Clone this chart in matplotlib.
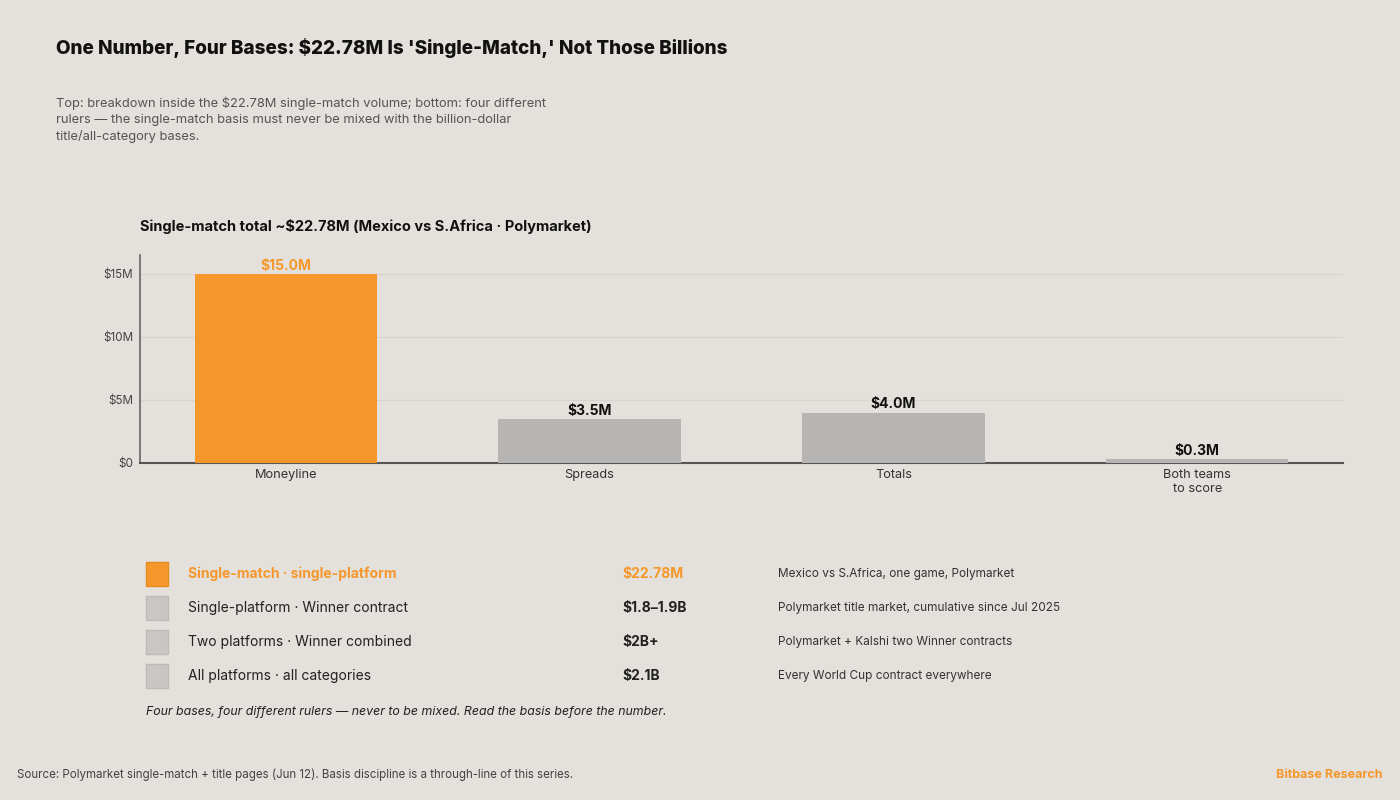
import matplotlib
matplotlib.use("Agg")
from matplotlib import pyplot as plt
from matplotlib.patches import Rectangle
from matplotlib.ticker import FuncFormatter

plt.rcParams['font.family'] = ['Inter', 'DejaVu Sans']

BG = "#E4E0DB"
ORANGE = "#F5972A"
GREY_BAR = "#B6B5B3"
GREY_BOX = "#C9C7C4"

# bar chart data
categories = ["Moneyline", "Spreads", "Totals", "Both teams\nto score"]
volumes_m = [15.0, 3.5, 4.0, 0.3]
bar_labels = ["$15.0M", "$3.5M", "$4.0M", "$0.3M"]
yticks_m = [0, 5, 10, 15]

# bases table
basis_names = ["Single-match · single-platform", "Single-platform · Winner contract",
               "Two platforms · Winner combined", "All platforms · all categories"]
basis_values = ["$22.78M", "$1.8–1.9B", "$2B+", "$2.1B"]
basis_notes = ["Mexico vs S.Africa, one game, Polymarket",
               "Polymarket title market, cumulative since Jul 2025",
               "Polymarket + Kalshi two Winner contracts",
               "Every World Cup contract everywhere"]

fig = plt.figure(figsize=(14, 8), dpi=100)
fig.patch.set_facecolor(BG)

W, H = 1400.0, 800.0
def fx(x):
    return x / W
def fy(y):
    return 1 - y / H

fig.text(fx(56), fy(48), "One Number, Four Bases: $22.78M Is 'Single-Match,' Not Those Billions",
         fontsize=13.6, fontweight="heavy", color="#111111", va="center", ha="left")
fig.text(fx(56), fy(97), "Top: breakdown inside the $22.78M single-match volume; bottom: four different\n"
         "rulers — the single-match basis must never be mixed with the billion-dollar\n"
         "title/all-category bases.", fontsize=9.3, color="#555555", va="top", ha="left",
         linespacing=1.4)

ax = fig.add_axes([fx(140), fy(463), fx(1343) - fx(140), fy(255) - fy(463)])
ax.set_facecolor(BG)
x = list(range(len(categories)))
colors = [ORANGE] + [GREY_BAR] * (len(categories) - 1)
ax.bar(x, volumes_m, width=0.6, color=colors, zorder=3)
for i, (v, lab) in enumerate(zip(volumes_m, bar_labels)):
    ax.text(i, v + 0.1, lab, ha="center", va="bottom", fontsize=10, fontweight="bold",
            color=ORANGE if i == 0 else "#111111", zorder=4)
ax.set_xlim(-0.48, 3.48)
ax.set_ylim(0, 16.5)
ax.set_yticks(yticks_m)
ax.yaxis.set_major_formatter(FuncFormatter(lambda v, p: "$0" if v == 0 else "$%dM" % v))
ax.set_xticks(x)
ax.set_xticklabels(categories, fontsize=9.2, color="#333333", linespacing=1.3)
ax.tick_params(axis="y", length=0, labelsize=8.4, labelcolor="#444444", pad=5)
ax.tick_params(axis="x", length=0, pad=4)
ax.grid(axis="y", color="#D7D3CE", lw=0.8, zorder=0)
for s in ["top", "right"]:
    ax.spines[s].set_visible(False)
ax.spines["left"].set_color("#666666")
ax.spines["left"].set_linewidth(1.2)
ax.spines["bottom"].set_color("#555555")
ax.spines["bottom"].set_linewidth(1.5)

fig.text(fx(140), fy(227), "Single-match total ~$22.78M (Mexico vs S.Africa · Polymarket)",
         fontsize=10.5, fontweight="bold", color="#111111", va="center", ha="left")

# bases table
row_y = [574, 608, 642, 676]
for i, yy in enumerate(row_y):
    first = i == 0
    box_c = ORANGE if first else GREY_BOX
    edge_c = "#E88A1E" if first else "#BDBBB8"
    fig.patches.append(Rectangle((fx(146), fy(yy + 12)), fx(22), fy(yy - 12) - fy(yy + 12),
                                 transform=fig.transFigure, facecolor=box_c, edgecolor=edge_c,
                                 lw=1, figure=fig))
    fig.text(fx(188), fy(yy), basis_names[i], fontsize=10,
             fontweight="bold" if first else "normal",
             color=ORANGE if first else "#222222", va="center", ha="left")
    fig.text(fx(622), fy(yy), basis_values[i], fontsize=10, fontweight="bold",
             color=ORANGE if first else "#222222", va="center", ha="left")
    fig.text(fx(778), fy(yy), basis_notes[i], fontsize=8.5, color="#333333",
             va="center", ha="left")

fig.text(fx(146), fy(712), "Four bases, four different rulers — never to be mixed. Read the basis before the number.",
         fontsize=8.9, style="italic", color="#222222", va="center", ha="left")

fig.text(fx(17), fy(775), "Source: Polymarket single-match + title pages (Jun 12). Basis discipline is a through-line of this series.",
         fontsize=8.3, color="#444444", va="center", ha="left")
fig.text(fx(1383), fy(775), "Bitbase Research", fontsize=9, fontweight="bold", color=ORANGE,
         va="center", ha="right")

fig.savefig("out.png", dpi=100, facecolor=BG)
